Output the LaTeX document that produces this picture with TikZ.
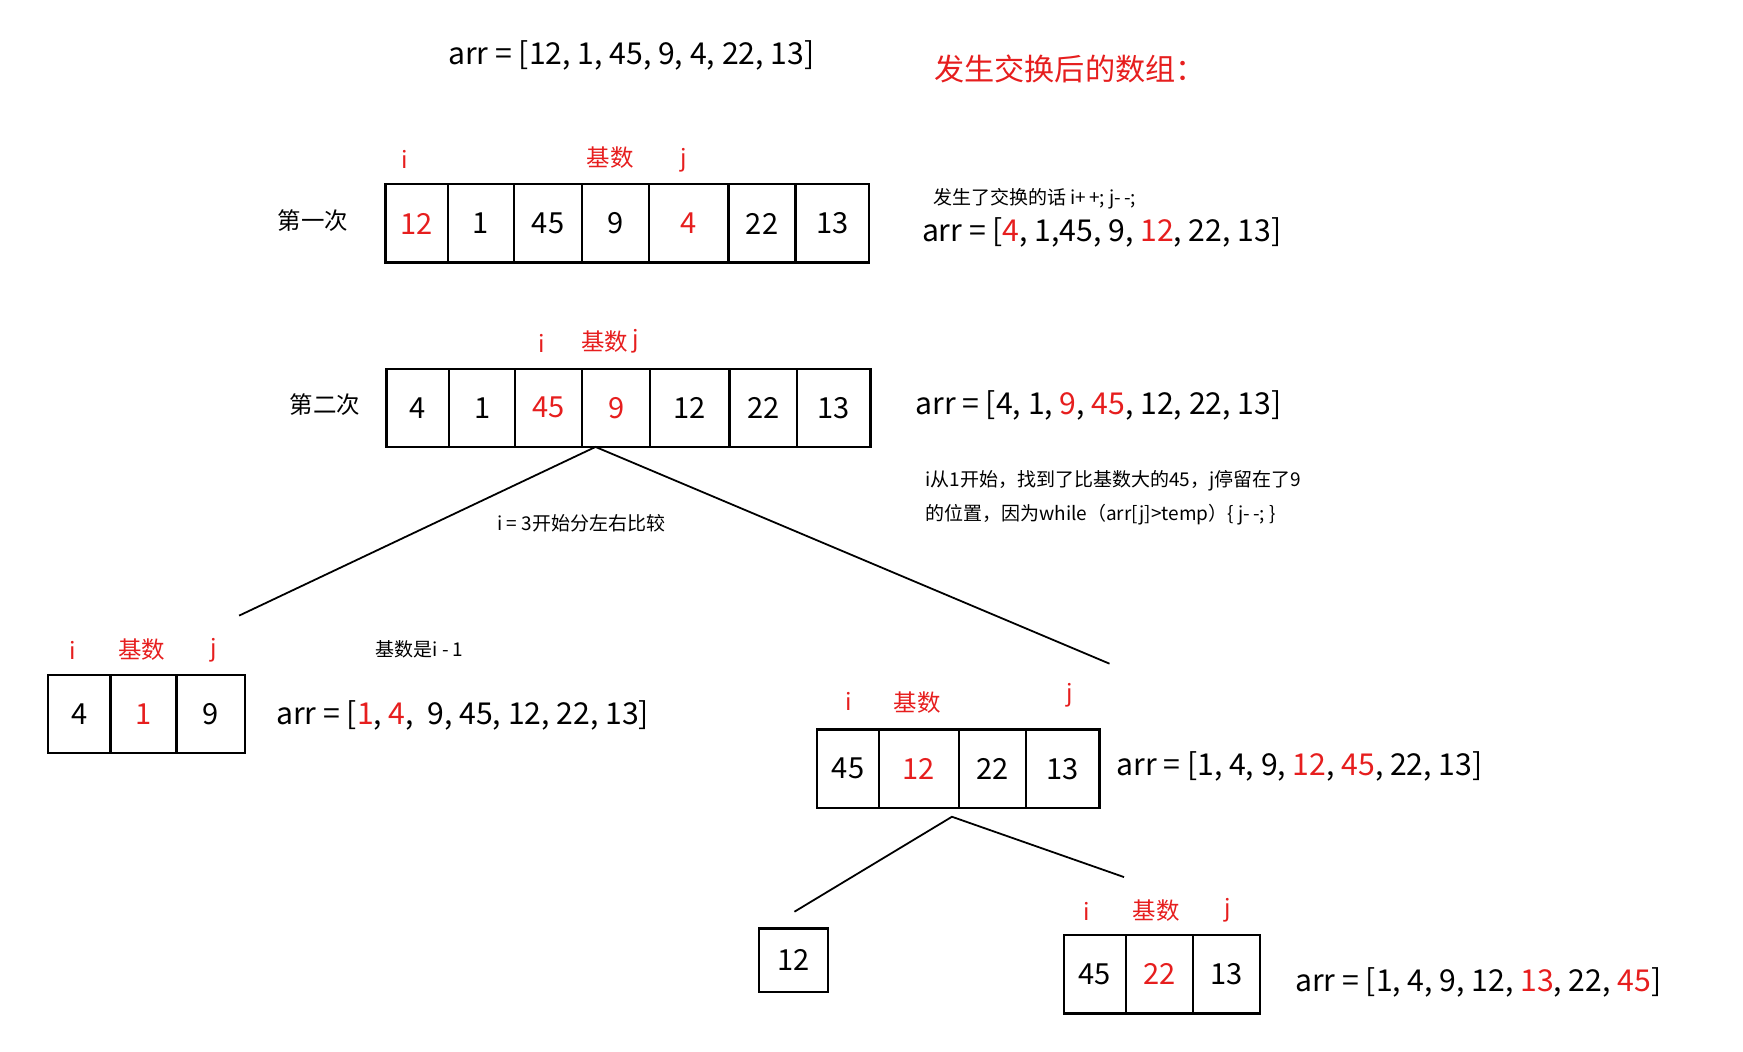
\documentclass[tikz,border=0pt]{standalone}
\usepackage{fontspec}
\setmainfont{Noto Sans CJK SC}
\definecolor{rd}{RGB}{230,30,30}
\begin{document}
\begin{tikzpicture}[x=1pt,y=-1pt,
  cell/.style={draw,line width=2pt,inner sep=0pt,font=\fontsize{26}{28}\selectfont},
  big/.style={font=\fontsize{27}{28}\selectfont,inner sep=0pt},
  lab/.style={font=\fontsize{21}{24}\selectfont,inner sep=0pt,text=rd},
  small/.style={font=\fontsize{17}{20}\selectfont,inner sep=0pt},
  mid/.style={font=\fontsize{21}{24}\selectfont,inner sep=0pt}]
\useasboundingbox (0,0) rectangle (1560,941);
\newcommand{\rowcells}[4]{% name, y1, y2, list x1/x2/text/color
  \foreach \xa/\xb/\t/\c [count=\k] in {#4}{
    \node[cell,text=\c,minimum width={\xb-\xa},minimum height={#3-#2},anchor=north west] (#1\k) at (\xa,#2) {\raisebox{-3pt}{\t}};
  }}
\rowcells{a}{164}{234}{344/400/12/rd,400/459/1/black,459/520/45/black,520/580/9/black,580/651/4/rd,651/711/22/black,711/777/13/black}
\rowcells{b}{329}{399}{345/401/4/black,401/460/1/black,460/520/45/rd,520/581/9/rd,581/652/12/black,652/712/22/black,712/778/13/black}
\rowcells{c}{603}{673}{42/98/4/black,98/157/1/rd,157/218/9/black}
\rowcells{d}{652}{722}{730/786/45/black,786/857/12/rd,857/917/22/black,917/983/13/black}
\rowcells{e}{830}{887}{678/740/12/black}
\rowcells{f}{836}{906}{951/1007/45/black,1007/1067/22/rd,1067/1127/13/black}
% connectors
\coordinate (bl) at (214,551); \coordinate (br) at (993,594);
\coordinate (bt) at (533,400);
\draw[line width=1.6pt] (bl) -- (bt) -- (br);
\coordinate (dl) at (711,816); \coordinate (dr) at (1006,785); \coordinate (dt) at (852,731);
\draw[line width=1.6pt] (dl) -- (dt) -- (dr);
% texts
\node[big] (t0) at (565,50) {arr\ =\ [12, 1, 45, 9, 4, 22, 13]};
\node[big,text=rd,anchor=west] (t1) at (836,62) {发生交换后的数组：};
\node[lab] (ai) at (362,143) {i};
\node[lab] (ab) at (546,141) {基数};
\node[lab] (aj) at (612,143) {j};
\node[mid] (a0) at (280,197) {第一次};
\node[small,anchor=west] (an) at (835,178) {发生了交换的话 i+\,+; j-\,-;};
\node[big,anchor=west] (aa) at (825,208) {arr\ =\ [\textcolor{rd}{4}, 1,45, 9, \textcolor{rd}{12}, 22, 13]};
\node[lab] (bi) at (485,307) {i};
\node[lab] (bb) at (541,306) {基数};
\node[lab] (bj) at (569,305) {j};
\node[mid] (b0) at (291,362) {第二次};
\node[big,anchor=west] (ba) at (819,363) {arr\ =\ [4, 1, \textcolor{rd}{9}, \textcolor{rd}{45}, 12, 22, 13]};
\node[small,anchor=west] (bn1) at (828,430) {i从1开始，找到了比基数大的45，j停留在了9};
\node[small,anchor=west] (bn2) at (828,461) {的位置，因为while（arr[j]>temp）\{ j-\,-; \}};
\node[small,anchor=west] (bn3) at (445,468) {i\ =\ 3开始分左右比较};
\node[lab] (ci) at (65,582) {i};
\node[lab] (cb) at (127,581) {基数};
\node[lab] (cj) at (191,582) {j};
\node[small,anchor=west] (cn) at (336,581) {基数是i - 1};
\node[big,anchor=west] (ca) at (247,640) {arr\ =\ [\textcolor{rd}{1}, \textcolor{rd}{4},\ \ 9, 45, 12, 22, 13]};
\node[lab] (di) at (760,628) {i};
\node[lab] (db) at (821,629) {基数};
\node[lab] (dj) at (957,622) {j};
\node[big,anchor=west] (da) at (999,686) {arr\ =\ [1, 4, 9, \textcolor{rd}{12}, \textcolor{rd}{45}, 22, 13]};
\node[lab] (fi) at (973,816) {i};
\node[lab] (fb) at (1035,815) {基数};
\node[lab] (fj) at (1099,815) {j};
\node[big,anchor=west] (fa) at (1159,879) {arr\ =\ [1, 4, 9, 12, \textcolor{rd}{13}, 22, \textcolor{rd}{45}]};
\end{tikzpicture}
\end{document}
